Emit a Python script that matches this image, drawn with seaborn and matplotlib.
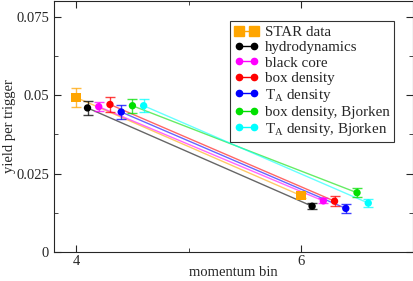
import numpy as np
import pandas as pd
import matplotlib
matplotlib.use('Agg')
import matplotlib.pyplot as plt
import seaborn as sns
from matplotlib.lines import Line2D
from matplotlib.ticker import MultipleLocator, FixedLocator, FuncFormatter

# series
labels = ['STAR data', 'hydrodynamics', 'black core', 'box density',
          'T$_\\mathregular{A}$ density', 'box density, Bjorken',
          'T$_\\mathregular{A}$ density, Bjorken']
colors = ['#ffa500', '#000000', '#ff00ff', '#ff0000', '#0000ff', '#00e000', '#00ffff']
x_lo = [4.0, 4.1, 4.2, 4.3, 4.4, 4.5, 4.6]
x_hi = [6.0, 6.1, 6.2, 6.3, 6.4, 6.5, 6.6]
y_lo = [0.0492, 0.0459, 0.0463, 0.0470, 0.0446, 0.0466, 0.0466]
y_hi = [0.0180, 0.0146, 0.0163, 0.0162, 0.0139, 0.0189, 0.0156]
err_lo = [0.0030, 0.0022, 0.0015, 0.0024, 0.0022, 0.0022, 0.0020]
err_hi = [0.0008, 0.0010, 0.0008, 0.0015, 0.0015, 0.0015, 0.0013]

rows = []
for i, lab in enumerate(labels):
    rows.append({'series': lab, 'x': x_lo[i], 'y': y_lo[i], 'err': err_lo[i]})
    rows.append({'series': lab, 'x': x_hi[i], 'y': y_hi[i], 'err': err_hi[i]})
df = pd.DataFrame(rows)
pal = dict(zip(labels, colors))

sns.set_style('ticks')
plt.rcParams['font.family'] = ['Liberation Serif', 'DejaVu Serif']
plt.rcParams['mathtext.fontset'] = 'stix'

fig = plt.figure(figsize=(4.14, 2.81), dpi=100)
ax = fig.add_axes([0.130, 0.103, 0.868, 0.894])

sns.lineplot(data=df, x='x', y='y', hue='series', palette=pal, alpha=0.6,
             lw=1.0, legend=False, ax=ax, estimator=None, sort=False)
for i, lab in enumerate(labels):
    d = df[df['series'] == lab]
    ax.errorbar(d['x'], d['y'], yerr=d['err'], fmt='none', ecolor=colors[i],
                alpha=0.75, elinewidth=1, capsize=3.5, capthick=1)
sns.scatterplot(data=df[df['series'] == labels[0]], x='x', y='y', color=colors[0],
                marker='s', s=50, edgecolor='none', ax=ax, legend=False, zorder=5)
sns.scatterplot(data=df[df['series'] != labels[0]], x='x', y='y', hue='series',
                palette=pal, marker='o', s=28, edgecolor='none', ax=ax,
                legend=False, zorder=5)

ax.set_xlim(3.8, 7.0)
ax.set_ylim(0, 0.08)
ax.xaxis.set_major_locator(FixedLocator([4, 6]))
ax.xaxis.set_minor_locator(FixedLocator([5]))
ax.yaxis.set_major_locator(MultipleLocator(0.025))
ax.yaxis.set_minor_locator(MultipleLocator(0.0125))
ax.yaxis.set_major_formatter(FuncFormatter(lambda v, p: '%g' % round(v, 4)))
ax.tick_params(which='both', direction='in', top=True, right=True, labelsize=10.5)
ax.tick_params(which='major', length=5)
ax.tick_params(which='minor', length=3)
ax.tick_params(axis='x', pad=2)
ax.set_xlabel('momentum bin', fontsize=10.5, labelpad=-1)
ax.set_ylabel('yield per trigger', fontsize=10.5, labelpad=0)
for s in ax.spines.values():
    s.set_linewidth(0.8)

handles = []
for i, lab in enumerate(labels):
    handles.append(Line2D([0, 1], [0, 0], color=colors[i], lw=1, alpha=1,
                          marker='s' if i == 0 else 'o',
                          markersize=7 if i == 0 else 4.5,
                          markerfacecolor=colors[i], markeredgecolor=colors[i]))
leg = ax.legend(handles, labels, loc='upper right', bbox_to_anchor=(0.968, 0.95),
                fontsize=10.8, frameon=True, fancybox=False, edgecolor='black',
                handlelength=1.6, handletextpad=0.4, borderpad=0.3,
                labelspacing=0.12, numpoints=2)
leg.get_frame().set_linewidth(0.8)

fig.savefig('out.png', dpi=100)
